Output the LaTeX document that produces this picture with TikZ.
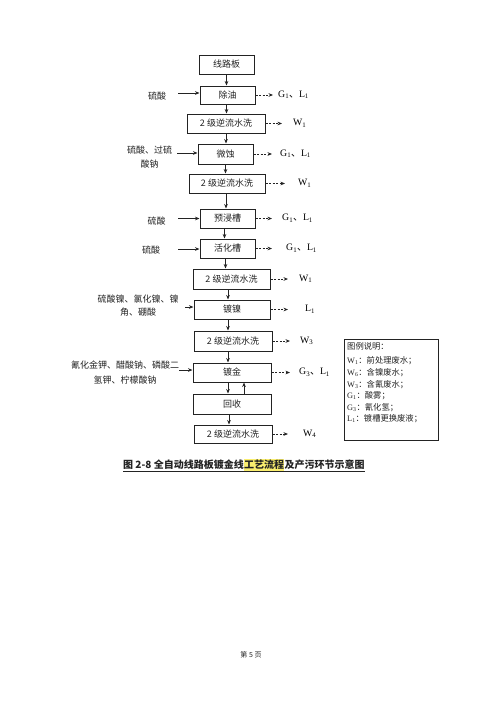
\documentclass[tikz,border=0pt]{standalone}
\usepackage{fontspec}
\setmainfont{Liberation Serif}
\newfontfamily\cjk{Noto Sans CJK SC}
\usetikzlibrary{arrows.meta}
\definecolor{hl}{RGB}{250,238,110}
\definecolor{ink}{RGB}{35,35,35}
\begin{document}
\begin{tikzpicture}[x=1pt,y=-1pt,
 box/.style={draw=ink, line width=1pt, inner sep=0pt, minimum height=19pt, font=\fontsize{9}{11}\selectfont\cjk, text=ink},
 arr/.style={-{Stealth[length=4.5pt,width=3.6pt]}, line width=0.75pt, draw=ink},
 darr/.style={arr, dash pattern=on 2pt off 1.6pt},
 lbl/.style={inner sep=0pt, anchor=west, font=\fontsize{9.8}{11}\selectfont, text=black},
 inl/.style={inner sep=0pt, font=\fontsize{9}{14}\selectfont\cjk, text=ink, align=center},
 leg/.style={inner sep=0pt, anchor=west, font=\fontsize{8.3}{10}\selectfont, text=ink},
 capt/.style={inner xsep=0pt, inner ysep=0pt, anchor=west, text height=8.5pt, text depth=1.5pt, font=\fontsize{10}{12}\selectfont\bfseries\cjk, text=ink},
]
\fill[white] (0,0) rectangle (500,707);
\useasboundingbox (0,0) rectangle (500,707);

% process boxes
\node[box, minimum width=55pt, minimum height=19pt] (b0) at (226.5,64.5) {线路板};
\node[box, minimum width=55pt, minimum height=18pt] (b1) at (227.5,95) {除油};
\node[box, minimum width=78pt] (b2) at (226,123.5) {2 级逆流水洗};
\node[box, minimum width=55pt, minimum height=20pt] (b3) at (225.5,154) {微蚀};
\node[box, minimum width=76pt] (b4) at (227,183.5) {2 级逆流水洗};
\node[box, minimum width=55pt] (b5) at (227.5,218.5) {预浸槽};
\node[box, minimum width=55pt] (b6) at (227.5,248.5) {活化槽};
\node[box, minimum width=77pt, minimum height=20pt] (b7) at (231.5,279) {2 级逆流水洗};
\node[box, minimum width=76pt] (b8) at (232,309.5) {镀镍};
\node[box, minimum width=78pt, minimum height=20pt] (b9) at (233,341) {2 级逆流水洗};
\node[box, minimum width=78pt] (b10) at (232,372.5) {镀金};
\node[box, minimum width=78pt, minimum height=20pt] (b11) at (232,404) {回收};
\node[box, minimum width=78pt, minimum height=18pt] (b12) at (233,434) {2 级逆流水洗};

% vertical flow
\draw[arr] (b0.south) -- (b0.south |- b1.north);
\draw[arr] ([xshift=-1pt]b1.south) -- ([xshift=-1pt]b1.south |- b2.north);
\draw[arr] (b2.south) -- (b2.south |- b3.north);
\draw[arr] (b3.south) -- (b3.south |- b4.north);
\draw[arr] ([xshift=-1pt]b4.south) -- ([xshift=-1pt]b4.south |- b5.north);
\draw[arr] ([xshift=-3pt]b5.south) -- ([xshift=-3pt]b5.south |- b6.north);
\draw[arr] ([xshift=-2pt]b6.south) -- ([xshift=-2pt]b6.south |- b7.north);
\draw[arr] ([xshift=-3.5pt]b7.south) -- ([xshift=-3.5pt]b7.south |- b8.north);
\draw[arr] ([xshift=-4pt]b8.south) -- ([xshift=-4pt]b8.south |- b9.north);
\draw[arr] ([xshift=-5pt]b9.south) -- ([xshift=-5pt]b9.south |- b10.north);
\draw[arr] ([xshift=-4pt]b10.south) -- ([xshift=-4pt]b10.south |- b11.north);
\draw[arr] ([xshift=12pt]b11.north) -- ([xshift=12pt]b11.north |- b10.south);
\draw[arr] ([xshift=-3pt]b11.south) -- ([xshift=-3pt]b11.south |- b12.north);

% outputs (right)
\coordinate (e1) at (273,95);   \node[lbl] (o1) at (278,95) {G\textsubscript{1}{\cjk 、}L\textsubscript{1}};
\coordinate (e2) at (282,123.5);\node[lbl] (o2) at (293,123.5) {W\textsubscript{1}};
\coordinate (e3) at (272,154);  \node[lbl] (o3) at (280,154) {G\textsubscript{1}{\cjk 、}L\textsubscript{1}};
\coordinate (e4) at (285,183.5);\node[lbl] (o4) at (298,183.5) {W\textsubscript{1}};
\coordinate (e5) at (272,218.5);\node[lbl] (o5) at (282,218.5) {G\textsubscript{1}{\cjk 、}L\textsubscript{1}};
\coordinate (e6) at (272,248.5);\node[lbl] (o6) at (286,248.5) {G\textsubscript{1}{\cjk 、}L\textsubscript{1}};
\coordinate (e7) at (288,279);  \node[lbl] (o7) at (299,279) {W\textsubscript{1}};
\coordinate (e8) at (288,309.5);\node[lbl] (o8) at (305,309.5) {L\textsubscript{1}};
\coordinate (e9) at (290,341);  \node[lbl] (o9) at (300,341) {W\textsubscript{3}};
\coordinate (e10) at (290,372.5);\node[lbl] (o10) at (299,372.5) {G\textsubscript{3}{\cjk 、}L\textsubscript{1}};
\coordinate (e12) at (288,434); \node[lbl] (o12) at (303,434) {W\textsubscript{4}};
\draw[darr] (b1.east) -- (b1.east -| e1);
\draw[darr] (b2.east) -- (b2.east -| e2);
\draw[darr] (b3.east) -- (b3.east -| e3);
\draw[darr] (b4.east) -- (b4.east -| e4);
\draw[darr] (b5.east) -- (b5.east -| e5);
\draw[darr] (b6.east) -- (b6.east -| e6);
\draw[darr] (b7.east) -- (b7.east -| e7);
\draw[darr] (b8.east) -- (b8.east -| e8);
\draw[darr] (b9.east) -- (b9.east -| e9);
\draw[darr] (b10.east) -- (b10.east -| e10);
\draw[darr] (b12.east) -- (b12.east -| e12);

% inputs (left)
\node[inl] (i1) at (157,96) {硫酸};
\node[inl] (i3) at (149.5,157.5) {硫酸、过硫\\酸钠};
\node[inl] (i5) at (156.5,221) {硫酸};
\node[inl] (i6) at (151,250) {硫酸};
\node[inl, font=\fontsize{9}{13}\selectfont\cjk] (i8) at (138,306) {硫酸镍、氯化镍、镍\\角、硼酸};
\node[inl, font=\fontsize{9}{15}\selectfont\cjk] (i10) at (125,372.5) {氰化金钾、醋酸钠、磷酸二\\氢钾、柠檬酸钠};
\coordinate (s1) at (178,93);
\coordinate (s3) at (177,153);
\coordinate (s5) at (178,218.5);
\coordinate (s6) at (178,249);
\coordinate (s8) at (185,307);
\coordinate (s10) at (179,370);
\draw[arr] (s1) -- (s1 -| b1.west);
\draw[arr] (s3) -- (s3 -| b3.west);
\draw[arr] (s5) -- (s5 -| b5.west);
\draw[arr] (s6) -- (s6 -| b6.west);
\draw[arr] (s8) -- (s8 -| b8.west);
\draw[arr] (s10) -- (s10 -| b10.west);

% legend
\node[draw=ink, line width=0.9pt, minimum width=94pt, minimum height=101pt, inner sep=0pt] (lg) at (391,389.5) {};
\node[leg] (l0) at (347,346) {\cjk 图例说明：};
\node[leg] (l1) at (347,361) {W\textsubscript{1}{\cjk ：前处理废水；}};
\node[leg] (l2) at (347,373) {W\textsubscript{6}{\cjk ：含镍废水；}};
\node[leg] (l3) at (347,384.5) {W\textsubscript{3}{\cjk ：含氰废水；}};
\node[leg] (l4) at (347,396) {G\textsubscript{1}{\cjk ：酸雾；}};
\node[leg] (l5) at (347,407.5) {G\textsubscript{3}{\cjk ：氰化氢；}};
\node[leg] (l6) at (347,419) {L\textsubscript{1}{\cjk ：镀槽更换废液；}};

% caption
\node[capt] (c1) at (123,465) {图 2-8 全自动线路板镀金线};
\node[capt, fill=hl, inner ysep=1pt] (c2) at (c1.east) {工艺流程};
\node[capt] (c3) at (c2.east) {及产污环节示意图};
\draw[line width=0.7pt, ink] ([yshift=-1.5pt]c1.south west) -- ([yshift=-1.5pt]c3.south east);

% page number
\node[inner sep=0pt, font=\fontsize{7}{8}\selectfont\cjk, text=ink] (pg) at (251,655) {第 5 页};
\end{tikzpicture}
\end{document}
